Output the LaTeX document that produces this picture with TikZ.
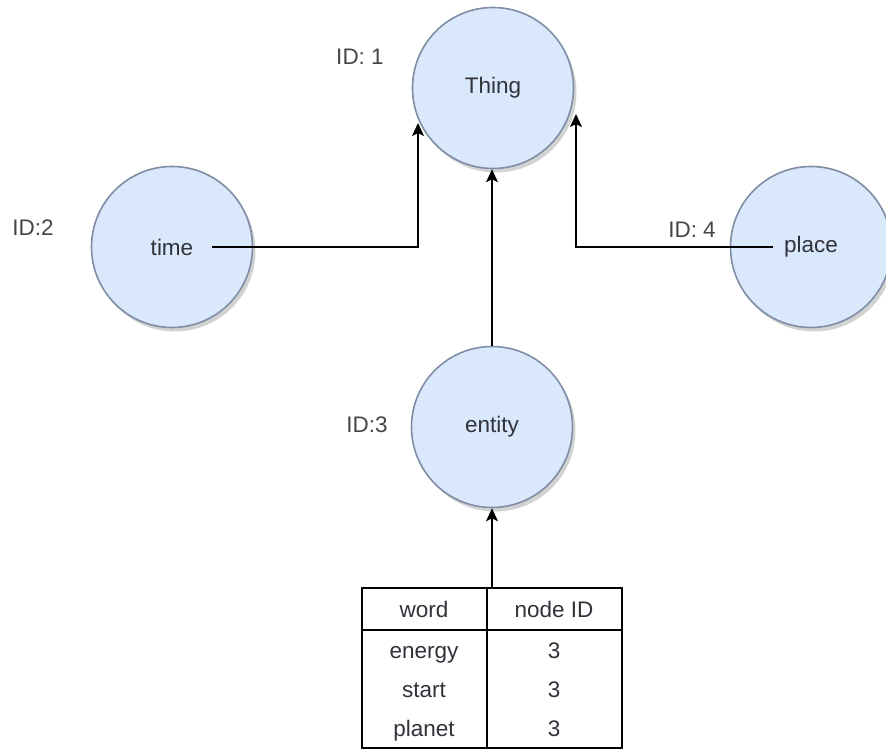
\documentclass[tikz,border=0pt]{standalone}
\usepackage{fontspec}
\setmainfont{Liberation Sans}
\usepackage{tikz}
\usetikzlibrary{positioning,arrows.meta,shadows,calc}
\definecolor{conceptfill}{RGB}{218,232,252}
\definecolor{conceptline}{RGB}{128,142,165}
\definecolor{labeltext}{RGB}{48,50,58}
\definecolor{idtext}{RGB}{70,70,70}
\tikzset{
  concept/.style={circle, draw=conceptline, fill=conceptfill, line width=1.6pt,
                  minimum size=161pt, inner sep=0pt, text=labeltext,
                  drop shadow={shadow xshift=3pt, shadow yshift=-4pt, fill=gray!70, opacity=.5}},
  idlabel/.style={text=idtext, inner sep=0pt},
  cell/.style={text=labeltext, inner sep=0pt, text height=1.6ex, text depth=.45ex},
  tblbox/.style={draw=black, line width=1.6pt, minimum width=260pt, minimum height=160pt},
  arr/.style={-{Stealth[length=13pt,width=12pt,inset=3pt]}, line width=1.6pt, black}
}

\begin{document}
\begin{tikzpicture}[x=1pt, y=-1pt, font=\fontsize{22.5}{26}\selectfont]
  \useasboundingbox (0,0) rectangle (886,751);

  % concept nodes
  \node[concept] (thing)  at (493,88)  {Thing};
  \node[concept] (time)   at (172,247) {time};
  \node[concept] (place)  at (811,247) {place};
  \node[concept] (entity) at (492,427) {entity};

  % ids
  \node[idlabel] (id1) at (360,57)  {ID: 1};
  \node[idlabel] (id2) at (33,228)  {ID:2};
  \node[idlabel] (id3) at (367,425) {ID:3};
  \node[idlabel] (id4) at (692,230) {ID: 4};

  % word table
  \node[tblbox] (tbl) at (492,668) {};
  \coordinate (hdr) at ($(tbl.north west)+(0,43)$);
  \coordinate (colsep) at ($(tbl.north west)+(126,0)$);
  \draw[line width=1.6pt] (hdr) -- (hdr -| tbl.east);
  \draw[line width=1.6pt] (colsep) -- (colsep |- tbl.south);

  \node[cell] (hword) at (424,614) {word};
  \node[cell] (hid)   at (554,614) {node ID};
  \foreach \w/\y [count=\i] in {energy/655, start/694, planet/733} {
    \node[cell] (w\i) at (424,\y) {\w};
    \node[cell] (n\i) at (554,\y) {3};
  }

  % is-a links
  \draw[arr] ([xshift=40pt]time.center) -| ([shift={(-75,35)}]thing.center);
  \draw[arr] ([xshift=-38pt]place.center) -| ([shift={(83,26)}]thing.center);
  \draw[arr] (entity.north) -- (entity.north |- thing.south);
  \draw[arr] (tbl.north) -- (entity.south);
\end{tikzpicture}
\end{document}
